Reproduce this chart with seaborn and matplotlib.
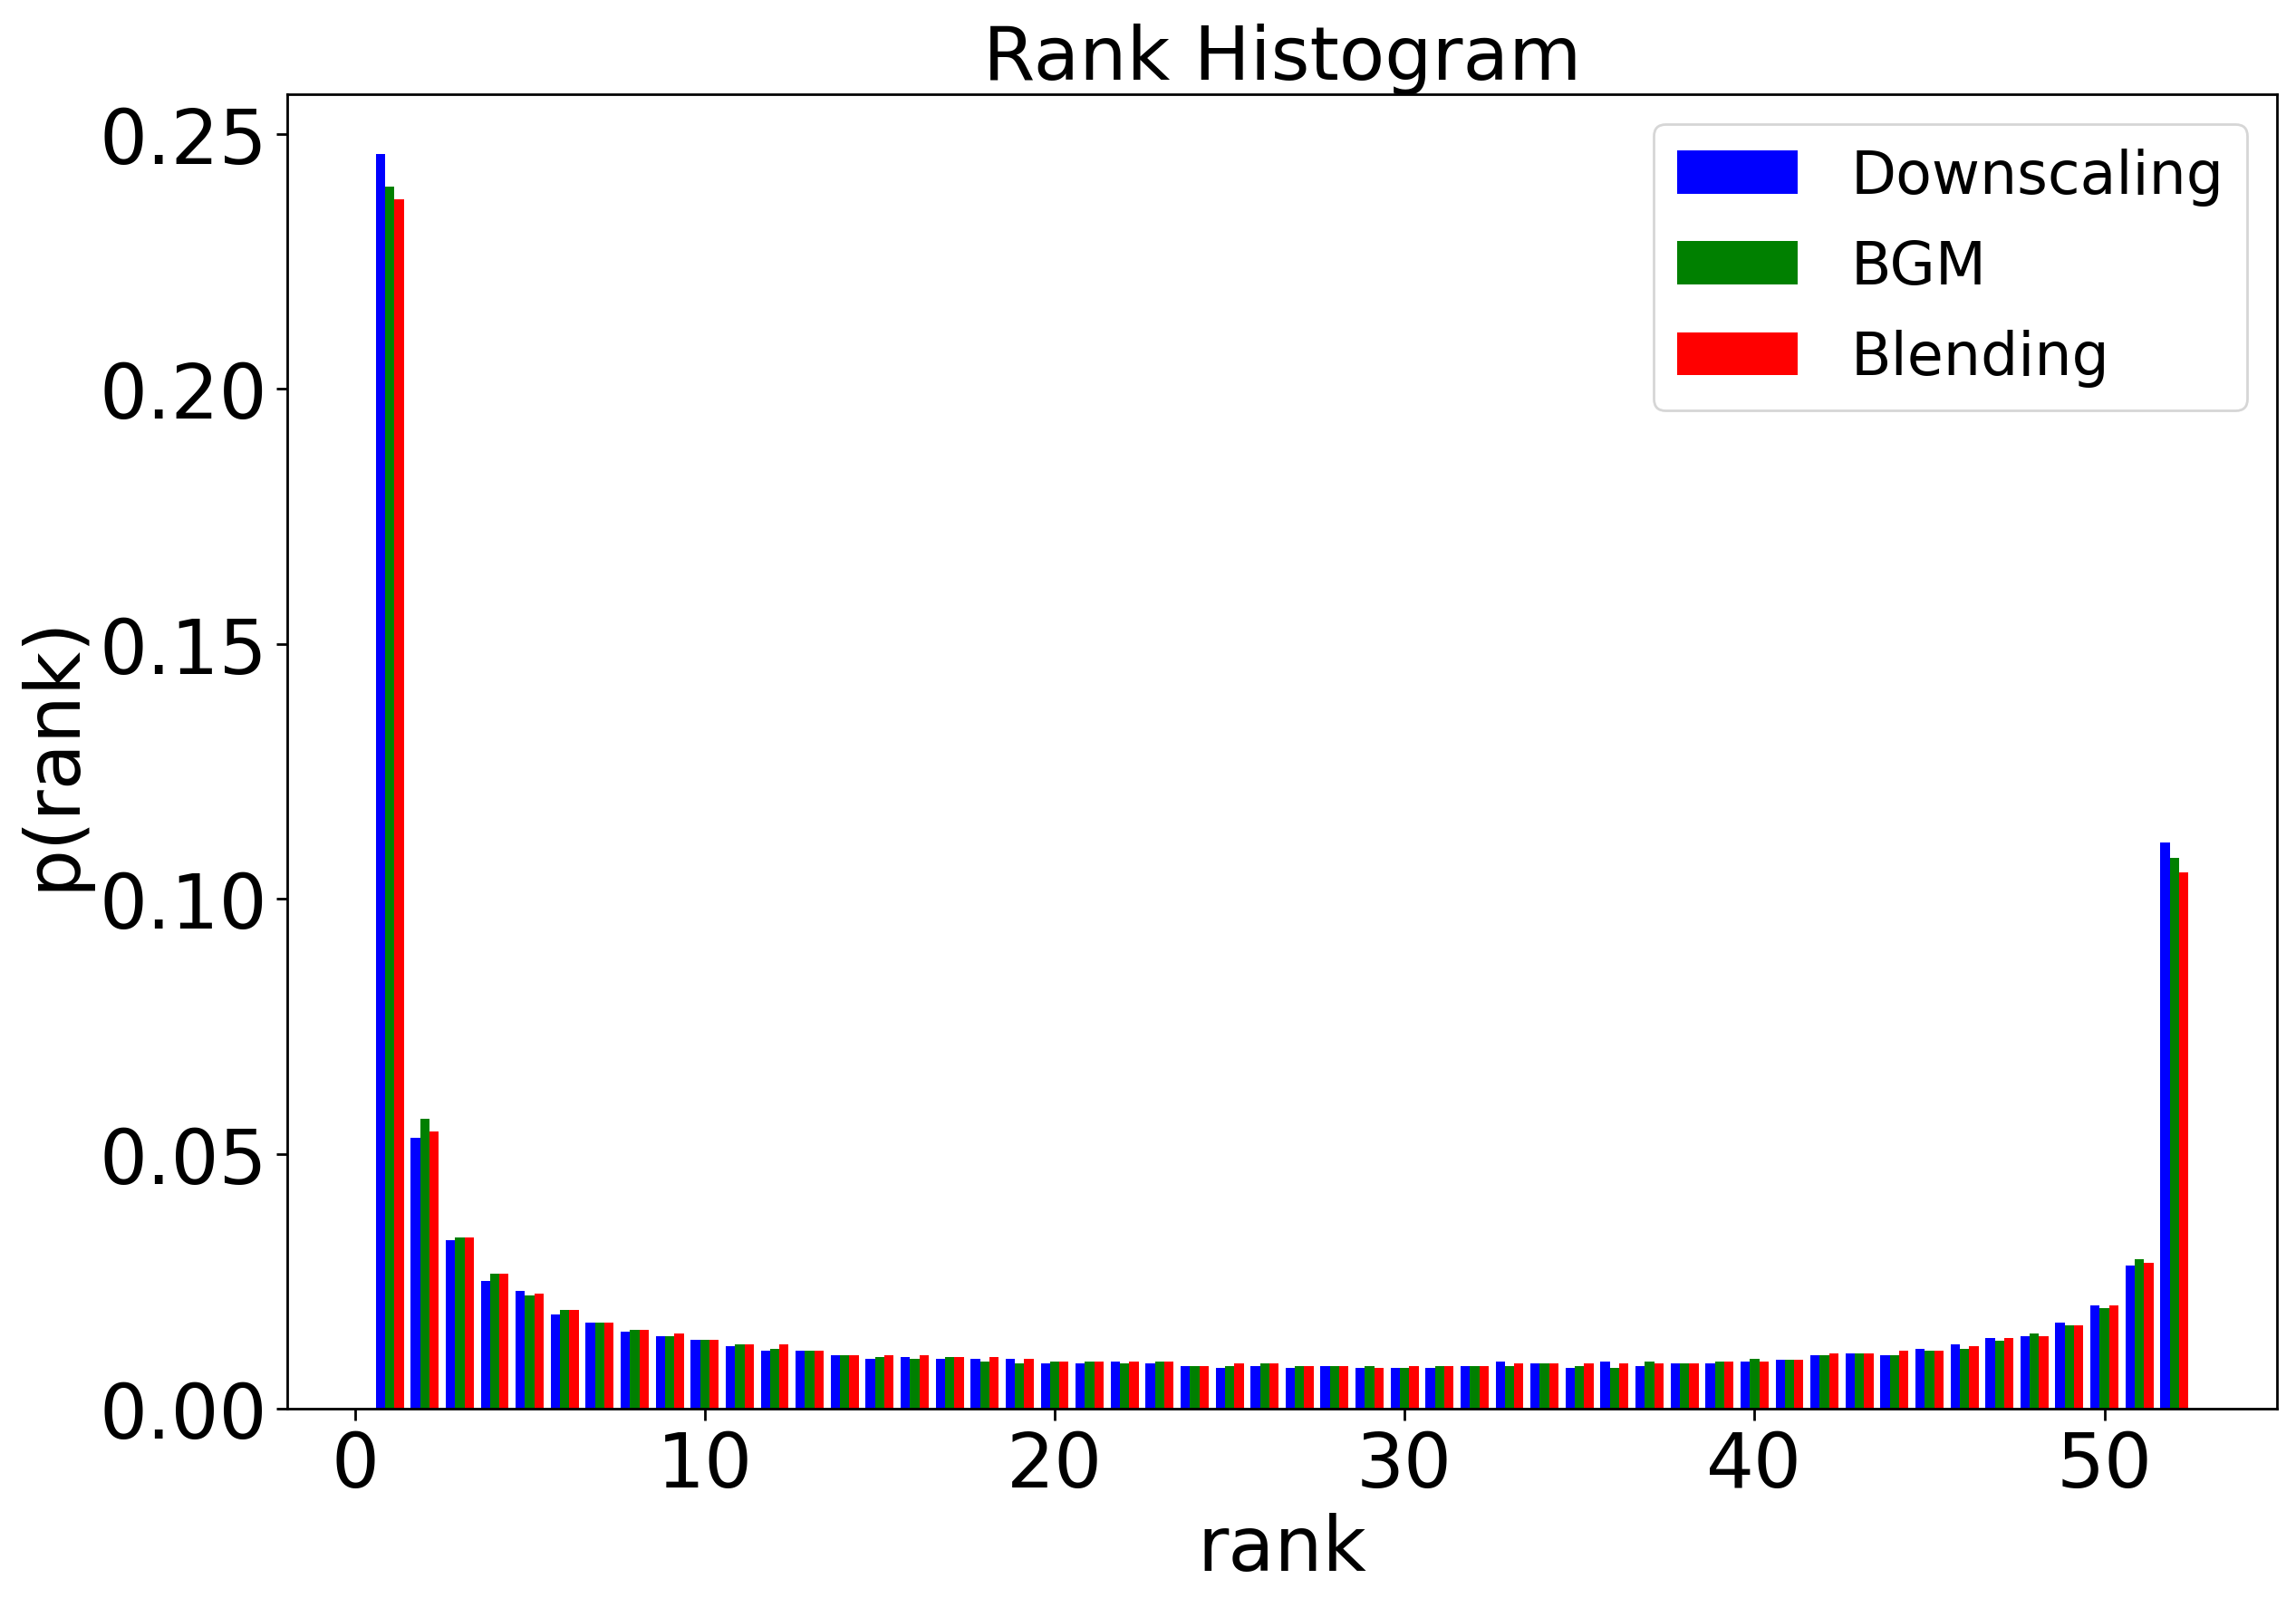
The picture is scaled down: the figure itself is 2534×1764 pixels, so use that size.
import numpy as np
import pandas as pd
import seaborn as sns
import matplotlib
matplotlib.use("Agg")
import matplotlib.pyplot as plt
from matplotlib.patches import Patch

ranks = list(range(1, 53))

downscaling = [0.2460, 0.0532, 0.0331, 0.0251, 0.0231, 0.0184, 0.0168, 0.0151, 0.0142, 0.0135,
               0.0122, 0.0113, 0.0113, 0.0105, 0.0097, 0.0101, 0.0097, 0.0097, 0.0097, 0.0089,
               0.0089, 0.0093, 0.0089, 0.0084, 0.0080, 0.0084, 0.0080, 0.0084, 0.0080, 0.0080,
               0.0080, 0.0084, 0.0093, 0.0089, 0.0080, 0.0093, 0.0084, 0.0089, 0.0089, 0.0093,
               0.0096, 0.0105, 0.0109, 0.0105, 0.0118, 0.0126, 0.0139, 0.0143, 0.0168, 0.0202,
               0.0281, 0.1111]

bgm = [0.2397, 0.0569, 0.0335, 0.0265, 0.0222, 0.0193, 0.0168, 0.0155, 0.0142, 0.0135,
       0.0126, 0.0118, 0.0113, 0.0105, 0.0101, 0.0097, 0.0101, 0.0093, 0.0089, 0.0093,
       0.0093, 0.0089, 0.0093, 0.0084, 0.0084, 0.0089, 0.0084, 0.0084, 0.0084, 0.0080,
       0.0084, 0.0084, 0.0084, 0.0089, 0.0084, 0.0080, 0.0093, 0.0089, 0.0093, 0.0097,
       0.0096, 0.0105, 0.0109, 0.0105, 0.0114, 0.0118, 0.0134, 0.0147, 0.0163, 0.0197,
       0.0293, 0.1081]

blending = [0.2372, 0.0544, 0.0335, 0.0265, 0.0226, 0.0193, 0.0168, 0.0155, 0.0147, 0.0135,
            0.0126, 0.0126, 0.0113, 0.0105, 0.0105, 0.0105, 0.0101, 0.0101, 0.0097, 0.0093,
            0.0093, 0.0093, 0.0093, 0.0084, 0.0089, 0.0089, 0.0084, 0.0084, 0.0080, 0.0084,
            0.0084, 0.0084, 0.0089, 0.0089, 0.0089, 0.0089, 0.0089, 0.0089, 0.0093, 0.0093,
            0.0096, 0.0109, 0.0109, 0.0114, 0.0114, 0.0122, 0.0139, 0.0143, 0.0163, 0.0202,
            0.0286, 0.1052]

methods = ["Downscaling", "BGM", "Blending"]
colors = ["blue", "green", "red"]

df = pd.DataFrame({
    "rank": ranks * 3,
    "p": downscaling + bgm + blending,
    "method": [m for m in methods for _ in ranks],
})

plt.rcParams["font.family"] = ["DejaVu Sans"]

fig = plt.figure(figsize=(12.67, 8.825), dpi=200)
ax = fig.add_axes([0.1251, 0.1184, 0.8666, 0.8221])

sns.barplot(data=df, x="rank", y="p", hue="method", hue_order=methods,
            palette=colors, native_scale=True, width=0.8, saturation=1,
            errorbar=None, linewidth=0, legend=False, ax=ax)

ax.set_xlim(-1.93, 54.93)
ax.set_ylim(0, 0.2578)
ax.set_xticks([0, 10, 20, 30, 40, 50])
ax.set_yticks([0.0, 0.05, 0.10, 0.15, 0.20, 0.25])
ax.set_yticklabels(["0.00", "0.05", "0.10", "0.15", "0.20", "0.25"])
ax.tick_params(labelsize=30, length=4.5, width=1.0)
for s in ax.spines.values():
    s.set_linewidth(1.0)

ax.set_title("Rank Histogram", fontsize=29.7)
ax.set_xlabel("rank", fontsize=30)
ax.set_ylabel("p(rank)", fontsize=30)

handles = [Patch(facecolor=c, label=m) for c, m in zip(colors, methods)]
ax.legend(handles=handles, loc="upper right", fontsize=23.4, handlelength=2.05,
          handleheight=0.75, labelspacing=0.56, handletextpad=0.9)

fig.savefig("out.png", dpi=200)
